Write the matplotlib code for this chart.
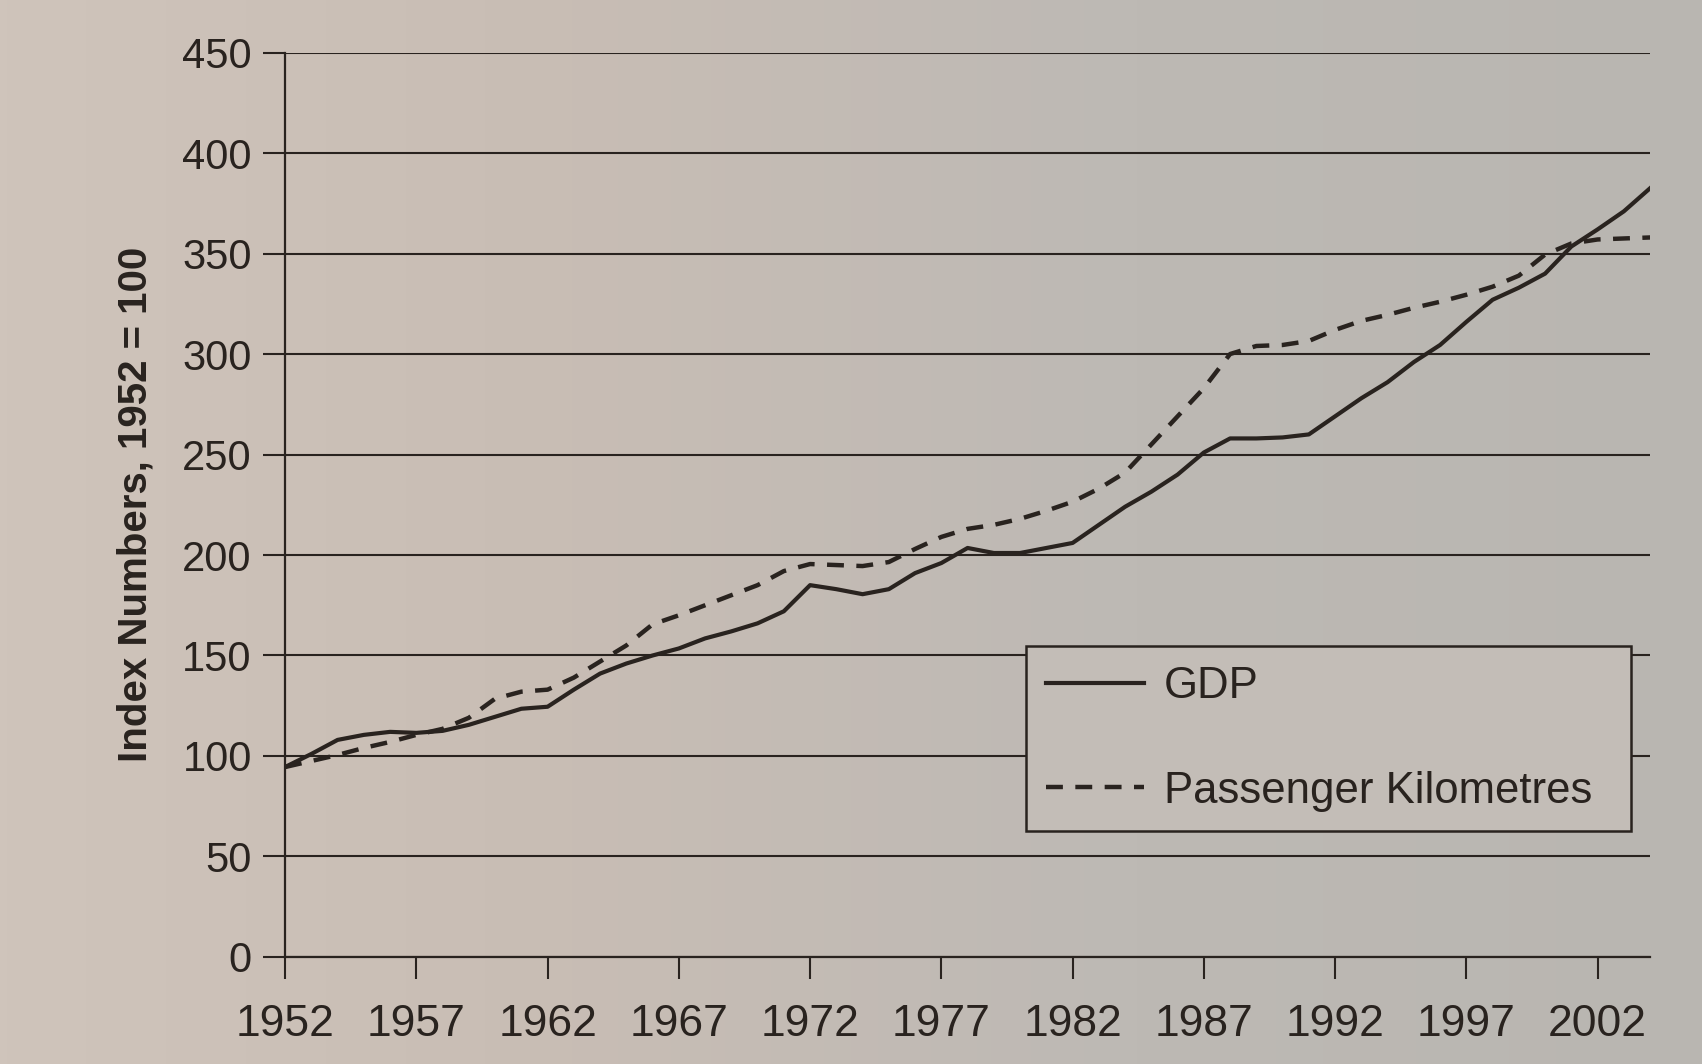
import matplotlib
matplotlib.use('Agg')
import matplotlib.pyplot as plt
import numpy as np
from matplotlib.colors import LinearSegmentedColormap

# ---- data ----
years = list(range(1952, 2005))
gdp = [94.5, 101, 108, 110.5, 112, 111.5, 112.5, 115.5, 119.5, 123.5,
       124.5, 133, 141, 146, 150, 153.5, 158.5, 162, 166, 172,
       185, 183, 180.5, 183, 191, 196, 203.5, 201, 201, 203.5,
       206, 215, 224, 231.5, 240, 251, 258, 258, 258.5, 260,
       269, 278, 286, 296, 304.5, 316, 327, 333, 340, 353.5,
       362, 371, 382.5]
pkm = [94.5, 97.5, 100.5, 104, 107, 110.5, 113.5, 119, 128.5, 132,
       133, 139, 147, 155, 165.5, 170, 175, 180, 185, 192,
       195.5, 195, 194.5, 196.5, 203, 209, 213, 215, 218, 222,
       226.5, 233, 241, 255, 269, 283, 300, 304, 304.5, 306.5,
       312, 316.5, 319.5, 323, 326, 329.5, 333.5, 339, 349.5, 355,
       357, 357.5, 358]
x_ticks = [1952, 1957, 1962, 1967, 1972, 1977, 1982, 1987, 1992, 1997, 2002]
y_ticks = [0, 50, 100, 150, 200, 250, 300, 350, 400, 450]
series_labels = ['GDP', 'Passenger Kilometres']
y_label = 'Index Numbers, 1952 = 100'

ink = '#29231f'
paper_cols = ['#cfc4bb', '#c8bdb4', '#bdb9b4', '#b9b6b1']

plt.rcParams['font.family'] = ['Liberation Sans', 'DejaVu Sans']

fig = plt.figure(figsize=(17.02, 10.64), dpi=100)

# paper background
bg = fig.add_axes([0, 0, 1, 1], zorder=-10)
grad = np.linspace(0, 1, 256).reshape(1, -1)
bg.imshow(grad, aspect='auto', extent=[0, 1, 0, 1],
          cmap=LinearSegmentedColormap.from_list('paper', paper_cols))
bg.set_axis_off()

ax = fig.add_axes([0.1675, 0.1006, 0.802, 0.850])
ax.set_facecolor('none')

ax.plot(years, gdp, color=ink, lw=3.0, solid_joinstyle='round',
        label=series_labels[0], zorder=3)
ax.plot(years, pkm, color=ink, lw=3.2, linestyle=(0, (3.8, 2.8)),
        label=series_labels[1], zorder=3)

ax.set_xlim(1952, 2004)
ax.set_ylim(0, 450)
ax.set_xticks(x_ticks)
ax.set_xticklabels([str(t) for t in x_ticks])
ax.set_yticks(y_ticks)
ax.set_yticklabels([str(t) for t in y_ticks])

ax.grid(axis='y', color=ink, lw=1.5, zorder=1)
ax.set_axisbelow(True)
for s in ['top', 'right']:
    ax.spines[s].set_visible(False)
for s in ['left', 'bottom']:
    ax.spines[s].set_color(ink)
    ax.spines[s].set_linewidth(1.6)

ax.tick_params(axis='y', direction='out', length=16, width=1.5, pad=8,
               labelsize=30, colors=ink)
ax.tick_params(axis='x', direction='out', length=16, width=1.5, pad=18,
               labelsize=32, colors=ink)

ax.set_ylabel(y_label, fontsize=29, fontweight='bold', color=ink, labelpad=20)

leg = ax.legend(loc='lower left', bbox_to_anchor=(0.543, 0.139, 0.443, 0.2),
                mode='expand', borderaxespad=0, fontsize=31.5,
                handlelength=2.25, handletextpad=0.45, labelspacing=1.45,
                borderpad=0.45, fancybox=False, framealpha=1,
                facecolor='#c3bdb7', edgecolor=ink, labelcolor=ink)
leg.get_frame().set_linewidth(1.8)

fig.savefig('out.png', dpi=100)
